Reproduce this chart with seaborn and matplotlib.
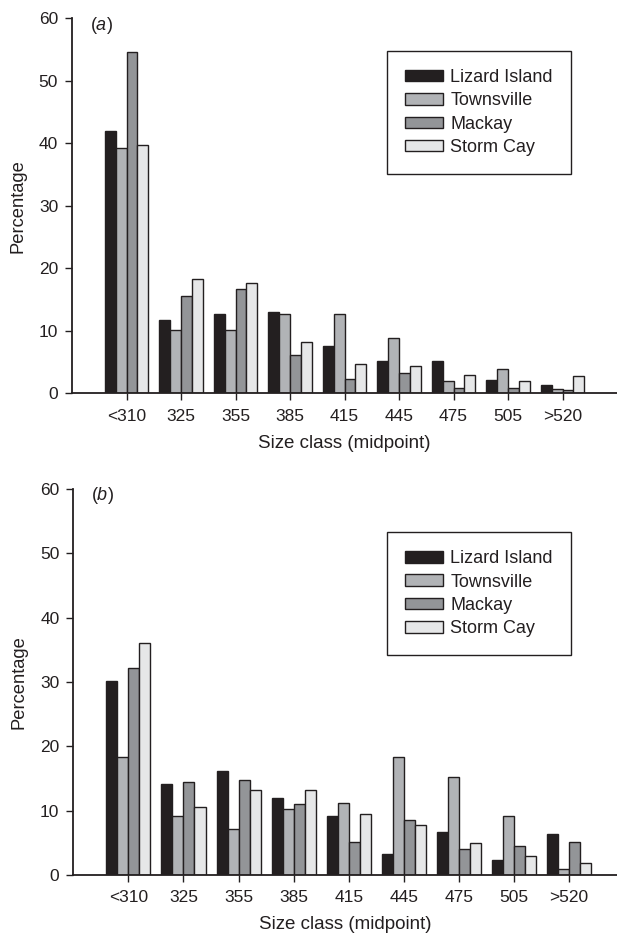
import matplotlib
matplotlib.use('Agg')
import matplotlib.pyplot as plt
import seaborn as sns
import pandas as pd

categories = ['<310', '325', '355', '385', '415', '445', '475', '505', '>520']
sites = ['Lizard Island', 'Townsville', 'Mackay', 'Storm Cay']
site_colors = ['#231f20', '#b1b3b6', '#939598', '#e6e7e8']

a_lizard = [41.9, 11.7, 12.7, 13.0, 7.6, 5.2, 5.2, 2.2, 1.4]
a_townsville = [39.3, 10.2, 10.2, 12.7, 12.7, 8.9, 2.0, 3.9, 0.7]
a_mackay = [54.6, 15.6, 16.7, 6.2, 2.3, 3.3, 0.8, 0.8, 0.5]
a_storm = [39.8, 18.3, 17.7, 8.2, 4.7, 4.4, 3.0, 2.0, 2.7]

b_lizard = [30.1, 14.2, 16.2, 11.9, 9.1, 3.2, 6.7, 2.4, 6.4]
b_townsville = [18.4, 9.2, 7.1, 10.2, 11.2, 18.3, 15.3, 9.2, 1.0]
b_mackay = [32.2, 14.5, 14.8, 11.1, 5.1, 8.5, 4.1, 4.5, 5.2]
b_storm = [36.1, 10.6, 13.2, 13.2, 9.4, 7.7, 4.9, 3.0, 1.9]

y_ticks = [0, 10, 20, 30, 40, 50, 60]
panel_labels = [r'($\mathit{a}$)', r'($\mathit{b}$)']
x_label = 'Size class (midpoint)'
y_label = 'Percentage'


def long_frame(series_list):
    rows = []
    for site, vals in zip(sites, series_list):
        for cat, v in zip(categories, vals):
            rows.append({'size': cat, 'site': site, 'pct': v})
    return pd.DataFrame(rows)


sns.set_theme(style='white')
ink = '#231f20'
plt.rcParams['font.family'] = ['Liberation Sans', 'DejaVu Sans']
plt.rcParams['mathtext.fontset'] = 'custom'
plt.rcParams['mathtext.rm'] = 'Liberation Sans'
plt.rcParams['mathtext.it'] = 'Liberation Sans:italic'
plt.rcParams['text.color'] = ink
plt.rcParams['axes.labelcolor'] = ink
plt.rcParams['xtick.color'] = ink
plt.rcParams['ytick.color'] = ink

fig = plt.figure(figsize=(6.17, 9.36), dpi=100)
ax_a = fig.add_axes([0.1167, 0.5798, 0.8833, 0.4006])
ax_b = fig.add_axes([0.1188, 0.0652, 0.8812, 0.4124])

palette = dict(zip(sites, site_colors))
panels = [
    (ax_a, [a_lizard, a_townsville, a_mackay, a_storm], (-1.0, 9.0), (0.578, 0.913)),
    (ax_b, [b_lizard, b_townsville, b_mackay, b_storm], (-1.0, 8.87), (0.577, 0.888)),
]

for i, (ax, series, xlim, leg_anchor) in enumerate(panels):
    df = long_frame(series)
    sns.barplot(data=df, x='size', y='pct', hue='site', order=categories,
                hue_order=sites, palette=palette, saturation=1,
                edgecolor=ink, linewidth=1.0, errorbar=None, ax=ax)
    ax.set_xlim(*xlim)
    ax.set_ylim(0, 60)
    ax.set_yticks(y_ticks)
    ax.set_yticklabels([str(t) for t in y_ticks], fontsize=12.5)
    ax.tick_params(axis='x', labelsize=12.5, length=5, width=1, direction='out', pad=6, bottom=True)
    ax.tick_params(axis='y', labelsize=12.5, length=5, width=1, direction='out', pad=5, left=True)
    for s in ['top', 'right']:
        ax.spines[s].set_visible(False)
    for s in ['left', 'bottom']:
        ax.spines[s].set_color(ink)
        ax.spines[s].set_linewidth(1.3)
    ax.set_xlabel(x_label, fontsize=13.5, labelpad=8)
    ax.set_ylabel(y_label, fontsize=13.2, labelpad=9)
    ax.text(0.033, 0.982, panel_labels[i], transform=ax.transAxes,
            fontsize=13, va='center', ha='left')
    handles, labels = ax.get_legend_handles_labels()
    if ax.get_legend() is not None:
        ax.get_legend().remove()
    leg = ax.legend(handles, labels, loc='upper left', bbox_to_anchor=leg_anchor,
                    frameon=True, fancybox=False, framealpha=1, edgecolor=ink,
                    fontsize=13, handlelength=2.1, handleheight=0.6,
                    handletextpad=0.4, labelspacing=0.35, borderpad=1.0,
                    borderaxespad=0)
    leg.get_frame().set_linewidth(1.0)

fig.savefig('out.png', dpi=100)
